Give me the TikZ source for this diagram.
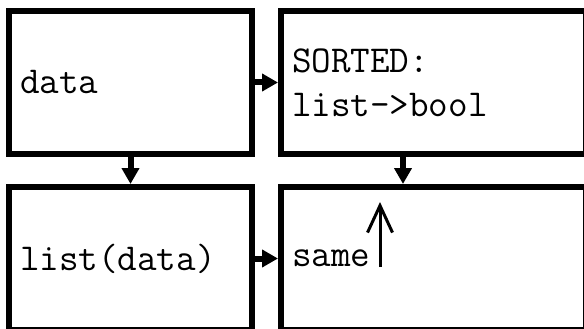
\documentclass[tikz,border=0pt]{standalone}
\usetikzlibrary{arrows.meta}
\tikzset{
  boxnode/.style={draw, line width=6pt, outer sep=3pt, inner xsep=11pt, inner ysep=0pt,
    minimum height=143pt, align=left, anchor=center,
    font=\ttfamily\fontsize{38}{44}\selectfont},
  smallbox/.style={boxnode, minimum width=243pt, text width=221pt},
  widebox/.style={boxnode, minimum width=305pt, text width=283pt},
  thickarrow/.style={line width=6pt, -{Triangle[length=16pt,width=17pt]}},
  thinarrow/.style={line width=3pt, -{Straight Barb[length=27pt,width=25pt]}}
}
\begin{document}
\begin{tikzpicture}[x=1pt,y=-1pt]
\useasboundingbox (0,0) rectangle (584,329);
\node[smallbox] (b1) at (130.5,82.5) {data};
\node[widebox]  (b2) at (433.5,82.5) {SORTED:\\list->bool};
\node[smallbox] (b3) at (130.5,258.5) {list(data)};
\node[widebox]  (b4) at (433.5,258.5) {same};
\draw[thickarrow] (b1.east) -- (b2.west);
\draw[thickarrow] (b3.east) -- (b4.west);
\draw[thickarrow] (b1.south) -- (b3.north);
\draw[thickarrow] ([xshift=-30.5pt]b2.south) -- ([xshift=-30.5pt]b4.north);
\coordinate (tailpt) at (380,267);
\coordinate (headpt) at (380,202);
\draw[thinarrow] (tailpt) -- (headpt);
\end{tikzpicture}
\end{document}
